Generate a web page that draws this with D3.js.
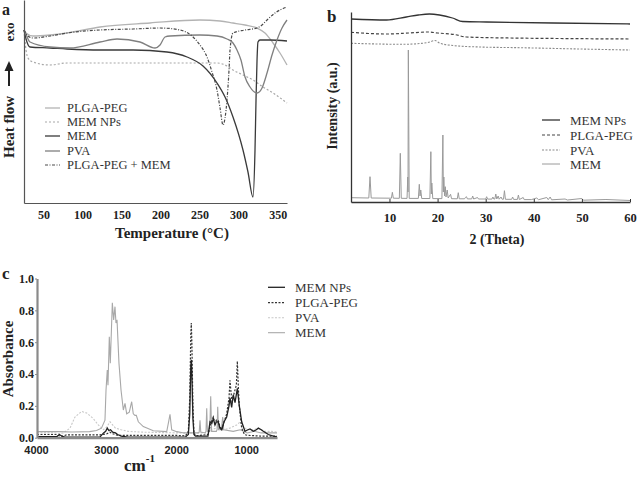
<!DOCTYPE html>
<html><head><meta charset="utf-8">
<script src="https://cdn.jsdelivr.net/npm/d3@7"></script>
<style>
body{margin:0;background:#fff;}
svg{display:block;font-family:"Liberation Serif","Times New Roman",serif;}
</style></head><body>
<svg id="chart" width="638" height="477"></svg>
<script>
// ---------- Panel a : DSC ----------
const dscTicks = [50,100,150,200,250,300,350];
const dscNames = ["PLGA-PEG","MEM NPs","MEM","PVA","PLGA-PEG + MEM"];
const dscPlgaPeg = [[25,86.5],[27.6,85],[36.5,83.5],[58.3,84],[80.1,85],[122.4,88],[186.5,90],[250.5,91.5],[276.2,91],[292.8,90],[308.2,89],[323.6,87.5],[333.8,85],[344.1,80],[353,75],[362,69]];
const dscMemNps = [[25,86.5],[27.6,76.5],[30.1,72.5],[36.5,70.5],[58.3,69],[80.1,70],[122.4,70],[186.5,70],[250.5,70],[272.3,70],[282.6,69],[292.8,66.5],[305.6,64],[318.4,61.5],[331.3,58],[344.1,55],[362,50]];
const dscMem = [[25,86.5],[28.8,80.5],[32.7,78],[58.3,77.5],[80.1,77],[122.4,76.5],[164.7,76.5],[208.2,75.5],[233.9,73],[254.4,68.5],[272.3,60],[282.6,53],[292.8,43],[305.6,26.5],[312,15.5],[318.4,3],[321,26.5],[322.3,51.5],[323.6,71.5],[324.8,80.5],[327.4,81.5],[340.2,81.5],[362,81]];
const dscPva = [[25,86.5],[26.3,85.5],[32.7,80.5],[58.3,78],[83.9,77.5],[122.4,80.5],[144.2,82],[173.6,80.5],[192.9,77.5],[199.3,79],[205.7,83],[212.1,83.5],[250.5,84],[272.3,83.5],[285.1,82],[292.8,80],[297.9,76.5],[303,71.5],[308.2,63],[314.6,58],[323.6,55],[330,57.5],[336.4,65],[342.8,74],[349.2,81.5],[355.6,87.5],[362,91.5]];
const dscPlgaMem = [[25,86.5],[30.1,83.5],[36.5,82.5],[58.3,83.5],[80.1,85],[122.4,86.5],[164.7,87],[199.3,87.5],[224.9,86.5],[241.6,83],[250.5,79],[259.5,73],[265.9,65.5],[272.3,56.5],[276.2,47.5],[280,39],[282.6,42.5],[285.1,51.5],[287.7,66.5],[289,76.5],[292.8,85],[308.2,86.5],[323.6,87.5],[330,89],[336.4,91.5],[346.6,95],[362,98]];

// ---------- Panel b : XRD ----------
const xrdTicks = [10,20,30,40,50,60];
const xrdNames = ["MEM NPs","PLGA-PEG","PVA","MEM"];
const xrdMemNps = [[2,183],[9.4,182],[13.5,185],[16,187],[18.3,188],[20.4,187],[23.1,184],[25.2,180.5],[30.2,180],[44,179],[60,178]];
const xrdPlgaPeg = [[2,169.7],[9.4,168],[14,169],[18,170],[20,169],[23.5,167.5],[26,165],[35,164],[45,163.5],[60,163]];
const xrdPva = [[2,158.7],[12.8,157.7],[17.8,159.3],[19.5,161.5],[20.5,158.7],[23.2,156.5],[28.8,155],[37.1,154.3],[49.6,153],[60,152]];
const xrdMem = [[2,4.3],[5.7,4],[5.95,25.3],[6.2,4],[10.4,3.8],[10.6,9.7],[10.8,3.8],[12.05,3.7],[12.25,48.7],[12.45,3.7],[13.65,3.6],[13.8,25],[13.85,10],[13.92,152],[14.1,3.6],[16.0,3.6],[16.2,17.7],[16.35,6],[16.5,12],[16.7,3.5],[18.4,3.5],[18.6,50.3],[18.7,8],[18.8,19],[19.0,3.4],[20.9,3.4],[21.1,67],[21.2,10],[21.3,25],[21.45,6],[21.6,15.3],[21.75,5],[22.0,12],[22.2,4],[22.7,7.7],[22.9,3.3],[24.1,3.2],[24.3,9.3],[24.5,3.2],[25.6,3.2],[25.8,4.6],[26.0,5.3],[26.2,3.1],[27.1,3.1],[27.3,6],[27.5,3],[28.3,4.5],[28.5,3],[30.0,3],[30.2,5.3],[30.4,2.9],[31.3,2.9],[31.5,5],[31.7,2.9],[31.9,3],[32.1,8],[32.3,3],[32.6,6],[32.8,2.8],[33.2,5],[33.4,2.8],[33.7,2.8],[33.9,11.3],[34.1,2.7],[35.4,2.7],[35.6,5],[35.8,2.6],[36.6,2.6],[36.8,7],[37.0,2.5],[37.8,4.5],[38.0,2.4],[39.5,2.4],[40.6,4],[41,2.3],[42.7,4.5],[43.0,2.3],[43.4,5],[43.7,2.2],[46.5,3],[47,2],[50,3.5],[50.3,1.8],[55,2.5],[60,1.5]];

// ---------- Panel c : FTIR ----------
const irXTicks = [4000,3000,2000,1000];
const irYTicks = [0,0.2,0.4,0.6,0.8,1.0];
const irNames = ["MEM NPs","PLGA-PEG","PVA","MEM"];
const irMem = [[4000,0.038],[3700,0.038],[3500,0.036],[3250,0.038],[3150,0.045],[3080,0.06],[3030,0.11],[3015,0.30],[2997,0.425],[2987,0.33],[2968,0.634],[2954,0.467],[2925,0.848],[2906,0.74],[2887,0.823],[2873,0.72],[2858,0.74],[2830,0.467],[2801,0.30],[2768,0.174],[2744,0.216],[2720,0.15],[2683,0.16],[2649,0.226],[2626,0.15],[2602,0.14],[2583,0.14],[2554,0.10],[2483,0.07],[2340,0.044],[2149,0.038],[2126,0.09],[2102,0.147],[2078,0.05],[2006,0.038],[1900,0.03],[1780,0.03],[1700,0.03],[1685,0.035],[1674,0.11],[1663,0.035],[1600,0.03],[1588,0.04],[1578,0.185],[1568,0.04],[1535,0.04],[1521,0.26],[1508,0.04],[1440,0.04],[1430,0.05],[1421,0.195],[1410,0.05],[1370,0.05],[1350,0.13],[1335,0.05],[1200,0.04],[1100,0.05],[1000,0.03],[900,0.04],[800,0.03],[700,0.03],[575,0.03]];
const irNps = [[4000,0.006],[3720,0.006],[3680,0.02],[3640,0.008],[3600,0.004],[3100,0.005],[3050,0.03],[3020,0.04],[2997,0.06],[2975,0.045],[2950,0.05],[2920,0.035],[2880,0.03],[2850,0.02],[2800,0.01],[2700,0.004],[2000,0.004],[1880,0.005],[1840,0.02],[1820,0.15],[1805,0.45],[1798,0.49],[1790,0.4],[1775,0.12],[1760,0.02],[1740,0.01],[1560,0.01],[1531,0.1],[1505,0.09],[1484,0.12],[1460,0.08],[1440,0.1],[1413,0.1],[1390,0.06],[1364,0.05],[1330,0.1],[1293,0.13],[1260,0.2],[1246,0.25],[1222,0.19],[1199,0.27],[1174,0.22],[1141,0.31],[1113,0.2],[1079,0.1],[1032,0.04],[990,0.05],[960,0.055],[913,0.04],[870,0.05],[841,0.06],[800,0.05],[770,0.04],[699,0.02],[628,0.01],[575,0.005]];
const irPlga = [[4000,0.02],[3720,0.02],[3680,0.012],[3630,0.01],[3580,0.018],[3100,0.018],[3000,0.025],[2960,0.035],[2920,0.025],[2850,0.015],[2000,0.014],[1880,0.012],[1840,0.04],[1820,0.25],[1805,0.65],[1798,0.72],[1790,0.6],[1775,0.2],[1760,0.03],[1740,0.012],[1560,0.02],[1520,0.09],[1484,0.13],[1460,0.09],[1440,0.11],[1413,0.11],[1390,0.07],[1364,0.05],[1330,0.1],[1293,0.15],[1260,0.25],[1246,0.36],[1230,0.28],[1215,0.22],[1199,0.26],[1174,0.3],[1155,0.33],[1141,0.48],[1125,0.3],[1113,0.2],[1079,0.06],[1040,0.02],[1000,0.015],[800,0.01],[575,0.01]];
const irPva = [[4000,0.03],[3750,0.03],[3680,0.025],[3624,0.03],[3529,0.06],[3458,0.13],[3362,0.165],[3291,0.155],[3196,0.12],[3125,0.08],[3054,0.05],[3000,0.07],[2958,0.1],[2920,0.08],[2880,0.06],[2800,0.05],[2700,0.04],[2500,0.035],[2000,0.03],[1800,0.03],[1700,0.03],[1600,0.03],[1450,0.06],[1420,0.07],[1380,0.05],[1330,0.05],[1250,0.06],[1150,0.08],[1100,0.1],[1060,0.07],[1000,0.05],[900,0.05],[850,0.06],[750,0.04],[650,0.04],[575,0.035]];

const svg = d3.select("#chart");

function styled(sel, s){ sel.attr("fill","none").attr("stroke",s.color).attr("stroke-width",s.w).attr("stroke-dasharray",s.dash||null); return sel; }

// ================= Panel a =================
{
  const x = d3.scaleLinear().domain([25,362]).range([24,287]);
  const y = d3.scaleLinear().domain([0,101.5]).range([203,0]);
  const g = svg.append("g");
  const styles = [
    {color:"#b3b3b3", w:1.3},
    {color:"#a8a8a8", w:1.2, dash:"2,2"},
    {color:"#3a3a3a", w:1.3},
    {color:"#7f7f7f", w:1.3},
    {color:"#4a4a4a", w:1.2, dash:"3,1.5,1,1.5"}
  ];
  const data = [dscPlgaPeg, dscMemNps, dscMem, dscPva, dscPlgaMem];
  const line = d3.line().x(d=>x(d[0])).y(d=>y(d[1])).curve(d3.curveMonotoneX);
  data.forEach((d,i)=> styled(g.append("path").attr("d", line(d)), styles[i]));
  const xa = g.append("g").attr("transform","translate(0,203)").call(d3.axisBottom(x).tickValues(dscTicks).tickSize(0).tickSizeOuter(0));
  xa.select(".domain").attr("stroke","#555").attr("stroke-width",1.2);
  xa.selectAll(".tick text").attr("y",16).attr("dy",null).attr("font-size",12).attr("font-weight","bold").attr("fill","#222").attr("font-family","Liberation Serif");
  const ya = g.append("g").attr("transform","translate(24,0)").call(d3.axisLeft(y).tickValues([]).tickSizeOuter(0));
  ya.select(".domain").attr("stroke","#555").attr("stroke-width",1.2);
  g.append("text").attr("x",172).attr("y",238).attr("text-anchor","middle").attr("font-size",15).attr("font-weight","bold").attr("fill","#222").text("Temperature (°C)");
  g.append("text").attr("transform","translate(14,127) rotate(-90)").attr("text-anchor","middle").attr("font-size",15).attr("font-weight","bold").attr("fill","#222").text("Heat flow");
  g.append("text").attr("transform","translate(14,32) rotate(-90)").attr("text-anchor","middle").attr("font-size",13).attr("font-weight","bold").attr("fill","#222").text("exo");
  g.append("line").attr("x1",9).attr("x2",9).attr("y1",86).attr("y2",68).attr("stroke","#222").attr("stroke-width",2);
  g.append("path").attr("d","M4.5,71 L9,61 L13.5,71 Z").attr("fill","#222");
  g.append("text").attr("x",2).attr("y",15).attr("font-size",16).attr("font-weight","bold").attr("fill","#222").text("a");
  const ly = [108,122,136,151,165];
  dscNames.forEach((n,i)=>{
    styled(g.append("line").attr("x1",45).attr("x2",60).attr("y1",ly[i]).attr("y2",ly[i]), styles[i]);
    g.append("text").attr("x",67).attr("y",ly[i]+4).attr("font-size",12.5).attr("fill","#333").text(n);
  });
}

// ================= Panel b =================
{
  const x = d3.scaleLinear().domain([2,60]).range([351,630]);
  const y = d3.scaleLinear().domain([0,190]).range([202,12]);
  const g = svg.append("g");
  const styles = [
    {color:"#333", w:1.3},
    {color:"#444", w:1.2, dash:"3,2"},
    {color:"#8a8a8a", w:1.1, dash:"2,1.5"},
    {color:"#9a9a9a", w:1}
  ];
  const smooth = d3.line().x(d=>x(d[0])).y(d=>y(d[1])).curve(d3.curveMonotoneX);
  const lin = d3.line().x(d=>x(d[0])).y(d=>y(d[1]));
  styled(g.append("path").attr("d", smooth(xrdMemNps)), styles[0]);
  styled(g.append("path").attr("d", smooth(xrdPlgaPeg)), styles[1]);
  styled(g.append("path").attr("d", smooth(xrdPva)), styles[2]);
  styled(g.append("path").attr("d", lin(xrdMem)), styles[3]);
  const xa = g.append("g").attr("transform","translate(0,202)").call(d3.axisBottom(x).tickValues(xrdTicks).tickSizeInner(-3).tickSizeOuter(0));
  xa.select(".domain").attr("stroke","#333").attr("stroke-width",1.3);
  xa.selectAll(".tick line").attr("stroke","#333");
  xa.selectAll(".tick text").attr("y",20).attr("dy",null).attr("font-size",12.5).attr("font-weight","bold").attr("fill","#222").attr("font-family","Liberation Serif");
  const ya = g.append("g").attr("transform","translate(351,0)").call(d3.axisLeft(y).tickValues([]).tickSizeOuter(0));
  ya.select(".domain").attr("stroke","#333").attr("stroke-width",1.3);
  g.append("text").attr("x",497).attr("y",244).attr("text-anchor","middle").attr("font-size",14).attr("font-weight","bold").attr("fill","#222").text("2 (Theta)");
  g.append("text").attr("transform","translate(337,106) rotate(-90)").attr("text-anchor","middle").attr("font-size",14).attr("font-weight","bold").attr("fill","#222").text("Intensity (a.u.)");
  g.append("text").attr("x",327).attr("y",22).attr("font-size",17).attr("font-weight","bold").attr("fill","#222").text("b");
  const ly = [120,135,150,164];
  xrdNames.forEach((n,i)=>{
    styled(g.append("line").attr("x1",542).attr("x2",560).attr("y1",ly[i]).attr("y2",ly[i]), styles[i]);
    g.append("text").attr("x",570).attr("y",ly[i]+4.5).attr("font-size",13).attr("fill","#333").text(n);
  });
}

// ================= Panel c =================
{
  const x = d3.scaleLinear().domain([4000,575]).range([37,277]);
  const y = d3.scaleLinear().domain([0,1]).range([437.7,278.5]);
  const g = svg.append("g");
  const styles = [
    {color:"#222", w:1.3},
    {color:"#333", w:1.2, dash:"2,1.5"},
    {color:"#c8c8c8", w:1.1, dash:"2,1.5"},
    {color:"#a8a8a8", w:1.1}
  ];
  const lin = d3.line().x(d=>x(d[0])).y(d=>y(d[1]));
  styled(g.append("path").attr("d", lin(irPva)), styles[2]);
  styled(g.append("path").attr("d", lin(irMem)), styles[3]);
  styled(g.append("path").attr("d", lin(irPlga)), styles[1]);
  styled(g.append("path").attr("d", lin(irNps)), styles[0]);
  const xa = g.append("g").attr("transform","translate(0,437.7)").call(d3.axisBottom(x).tickValues(irXTicks).tickFormat(d3.format("d")).tickSize(0).tickSizeOuter(0));
  xa.select(".domain").attr("stroke","#8a8a8a").attr("stroke-width",2.2);
  xa.selectAll(".tick text").attr("y",16).attr("x",-1).attr("dy",null).attr("font-size",11).attr("font-weight","bold").attr("fill","#222").attr("font-family","Liberation Sans");
  const ya = g.append("g").attr("transform","translate(37,0)").call(d3.axisLeft(y).tickValues(irYTicks).tickFormat(d3.format(".1f")).tickSize(2).tickSizeOuter(0));
  ya.select(".domain").attr("stroke","#8a8a8a").attr("stroke-width",2.2);
  ya.selectAll(".tick line").attr("stroke","#8a8a8a");
  ya.selectAll(".tick text").attr("x",-3).attr("font-size",12).attr("font-weight","bold").attr("fill","#222").attr("font-family","Liberation Serif");
  g.append("text").attr("transform","translate(13,359) rotate(-90)").attr("text-anchor","middle").attr("font-size",15).attr("font-weight","bold").attr("fill","#222").text("Absorbance");
  const t = g.append("text").attr("x",124).attr("y",471).attr("font-size",17).attr("font-weight","bold").attr("fill","#222");
  t.append("tspan").text("cm");
  t.append("tspan").attr("font-size",11).attr("dy",-9).text("-1");
  g.append("text").attr("x",2).attr("y",279).attr("font-size",17).attr("font-weight","bold").attr("fill","#222").text("c");
  const ly = [287.3,302.7,317.7,332.7];
  irNames.forEach((n,i)=>{
    styled(g.append("line").attr("x1",268).attr("x2",285).attr("y1",ly[i]).attr("y2",ly[i]), styles[i]);
    g.append("text").attr("x",295).attr("y",ly[i]+4.5).attr("font-size",13).attr("fill","#333").text(n);
  });
}
</script>
</body></html>
